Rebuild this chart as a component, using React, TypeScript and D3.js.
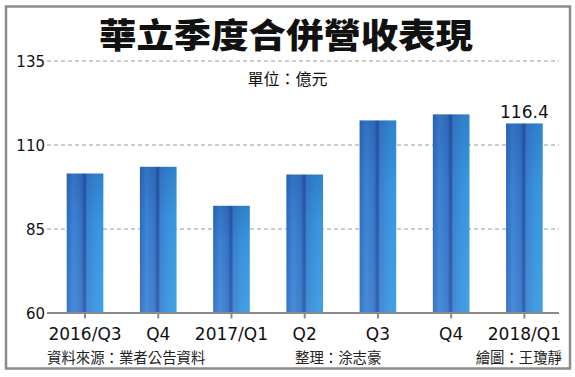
import React from "react";
import * as d3 from "d3";

const categories = ["2016/Q3", "Q4", "2017/Q1", "Q2", "Q3", "Q4 ", "2018/Q1"];
const tickLabels = ["2016/Q3", "Q4", "2017/Q1", "Q2", "Q3", "Q4", "2018/Q1"];
const revenue = [101.5, 103.5, 91.9, 101.2, 117.3, 119.1, 116.4];
const yTicks = [60, 85, 110, 135];
const title = "華立季度合併營收表現";
const unitText = "單位：億元";
const sourceText = "資料來源：業者公告資料";
const editorText = "整理：涂志豪";
const drawerText = "繪圖：王瓊靜";
const labeledIndex = 6;

const W = 575;
const H = 377;
const CJK = "'Noto Sans CJK TC', 'Noto Sans CJK SC', sans-serif";
const LAT = "'DejaVu Sans', 'Liberation Sans', sans-serif";

export default function App() {
  const x = d3
    .scaleBand<string>()
    .domain(categories)
    .range([48.4, 561])
    .paddingInner(0.5)
    .paddingOuter(0.25);
  const y = d3.scaleLinear().domain([60, 135]).range([313, 61]);
  const bw = x.bandwidth();

  return (
    <svg
      width={W}
      height={H}
      style={{ position: "absolute", left: 0, top: 0, background: "#fff" }}
    >
      <defs>
        <linearGradient id="barH" x1="0" x2="1" y1="0" y2="0">
          <stop offset="0" stopColor="#2f6cc2" />
          <stop offset="0.18" stopColor="#3f86d7" />
          <stop offset="0.4" stopColor="#3778c9" />
          <stop offset="0.48" stopColor="#2a57a5" />
          <stop offset="0.51" stopColor="#2d5eae" />
          <stop offset="0.55" stopColor="#3b83d2" />
          <stop offset="0.8" stopColor="#3a97e0" />
          <stop offset="1" stopColor="#379de6" />
        </linearGradient>
        <linearGradient id="barV" x1="0" x2="0" y1="0" y2="1">
          <stop offset="0" stopColor="#173f8c" stopOpacity="0.28" />
          <stop offset="0.35" stopColor="#173f8c" stopOpacity="0.05" />
          <stop offset="1" stopColor="#ffffff" stopOpacity="0.05" />
        </linearGradient>
      </defs>

      <rect x={6} y={6.5} width={564} height={362} fill="#fff" stroke="#8c8c8c" strokeWidth={2.5} />

      <text
        x={0}
        y={0}
        transform={`translate(286,47.5) scale(1.1,1)`}
        textAnchor="middle"
        fontFamily={CJK}
        fontWeight={900}
        fontSize={34}
        fill="#111"
      >
        {title}
      </text>

      {yTicks
        .filter((t) => t !== 60)
        .map((t) => (
          <line
            key={"g" + t}
            x1={47}
            x2={559}
            y1={y(t)}
            y2={y(t)}
            stroke="#9a9a9a"
            strokeWidth={1.2}
            strokeDasharray="4,3"
          />
        ))}
      {yTicks.map((t) => (
        <text
          key={"t" + t}
          x={45}
          y={y(t) + 5.5}
          textAnchor="end"
          fontFamily={LAT}
          fontSize={15}
          fill="#111"
        >
          {t}
        </text>
      ))}

      <text x={287.5} y={85} textAnchor="middle" fontFamily={CJK} fontSize={16} fill="#111">
        {unitText}
      </text>

      {categories.map((c, i) => (
        <g key={c}>
          <rect
            x={x(c)!}
            y={y(revenue[i])}
            width={bw}
            height={y(60) - y(revenue[i])}
            fill="url(#barH)"
          />
          <rect
            x={x(c)!}
            y={y(revenue[i])}
            width={bw}
            height={y(60) - y(revenue[i])}
            fill="url(#barV)"
          />
        </g>
      ))}

      <line x1={47} x2={559} y1={y(60)} y2={y(60)} stroke="#8a8a8a" strokeWidth={2} />
      {categories.map((c, i) => (
        <g key={"x" + c}>
          <line
            x1={x(c)! + bw / 2}
            x2={x(c)! + bw / 2}
            y1={y(60)}
            y2={y(60) + 5.5}
            stroke="#8a8a8a"
            strokeWidth={2}
          />
          <text
            x={x(c)! + bw / 2}
            y={340}
            textAnchor="middle"
            fontFamily={LAT}
            fontSize={17}
            fill="#111"
          >
            {tickLabels[i]}
          </text>
        </g>
      ))}

      <text
        x={x(categories[labeledIndex])! + bw / 2}
        y={118}
        textAnchor="middle"
        fontFamily={LAT}
        fontSize={17}
        fill="#111"
      >
        {revenue[labeledIndex].toFixed(1)}
      </text>

      <text x={47} y={363} fontFamily={CJK} fontSize={14.4} fill="#222">
        {sourceText}
      </text>
      <text x={295} y={363} fontFamily={CJK} fontSize={14.4} fill="#222">
        {editorText}
      </text>
      <text x={562} y={363} textAnchor="end" fontFamily={CJK} fontSize={14.4} fill="#222">
        {drawerText}
      </text>
    </svg>
  );
}
